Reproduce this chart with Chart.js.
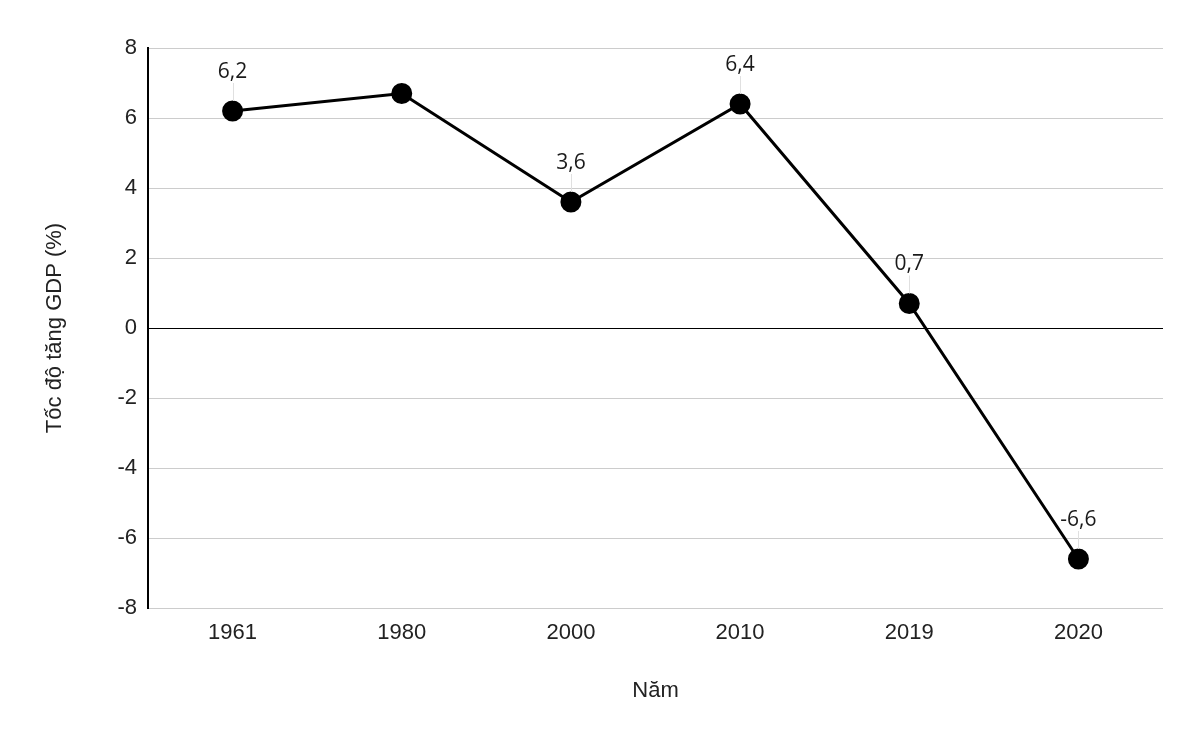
<!DOCTYPE html>
<html lang="vi">
<head>
  <meta charset="UTF-8" />
  <title>Tốc độ tăng GDP</title>
  <script src="https://cdn.jsdelivr.net/npm/chart.js"></script>
  <style>
    html, body { margin: 0; padding: 0; background: #fff; }
    #wrap { width: 1199px; height: 742px; }
  </style>
</head>
<body>
  <div id="wrap"><canvas id="myChart"></canvas></div>

  <script>
    // data
    const years = ['1961', '1980', '2000', '2010', '2019', '2020'];
    const growth = [6.2, 6.7, 3.6, 6.4, 0.7, -6.6];
    const showLabel = [true, false, true, true, true, true];
    const yTicks = [-8, -6, -4, -2, 0, 2, 4, 6, 8];

    // value labels with a thin leader line above each point
    const pointLabels = {
      id: 'pointLabels',
      afterDatasetsDraw(chart) {
        const ctx = chart.ctx;
        const meta = chart.getDatasetMeta(0);
        ctx.save();
        meta.data.forEach((pt, i) => {
          if (!showLabel[i]) return;
          const txt = growth[i].toString().replace('.', ',');
          ctx.strokeStyle = '#e0e0e0';
          ctx.lineWidth = 1;
          ctx.beginPath();
          ctx.moveTo(Math.round(pt.x) + 0.5, pt.y - 28);
          ctx.lineTo(Math.round(pt.x) + 0.5, pt.y - 10);
          ctx.stroke();
          ctx.font = '21px "Open Sans"';
          ctx.fillStyle = '#1a1a1a';
          ctx.textAlign = 'center';
          ctx.textBaseline = 'middle';
          ctx.fillText(txt, pt.x, pt.y - 39);
        });
        ctx.restore();
      }
    };

    const ctx = document.getElementById('myChart').getContext('2d');
    new Chart(ctx, {
      type: 'line',
      data: {
        labels: years,
        datasets: [{
          data: growth,
          borderColor: '#000',
          borderWidth: 3,
          backgroundColor: '#000',
          pointBackgroundColor: '#000',
          pointBorderColor: '#000',
          pointRadius: 9,
          tension: 0
        }]
      },
      options: {
        responsive: true,
        maintainAspectRatio: false,
        animation: false,
        layout: { padding: { left: 26, right: 36, top: 48, bottom: 29 } },
        plugins: {
          legend: { display: false },
          tooltip: { enabled: false }
        },
        scales: {
          x: {
            offset: true,
            grid: { display: false, drawTicks: false },
            border: { display: false },
            ticks: {
              color: '#222',
              padding: 12,
              font: { family: 'Liberation Sans', size: 22 }
            },
            title: {
              display: true,
              text: 'Năm',
              color: '#222',
              padding: { top: 30, bottom: 9 },
              font: { family: 'Liberation Sans', size: 22 }
            },
            afterFit: (s) => { s.height = 105; }
          },
          y: {
            min: -8,
            max: 8,
            afterBuildTicks: (s) => { s.ticks = yTicks.map(v => ({ value: v })); },
            grid: {
              drawTicks: false,
              color: (c) => c.tick && c.tick.value === 0 ? '#000' : '#cccccc',
              lineWidth: 1
            },
            border: { display: true, color: '#000', width: 2 },
            ticks: {
              color: '#222',
              padding: 11,
              font: { family: 'Liberation Sans', size: 22 }
            },
            title: {
              display: true,
              text: 'Tốc độ tăng GDP (%)',
              color: '#222',
              padding: { top: 16, bottom: 0 },
              font: { family: 'Liberation Sans', size: 22 }
            },
            afterFit: (s) => { s.width = 122; }
          }
        }
      },
      plugins: [pointLabels]
    });
  </script>
</body>
</html>
